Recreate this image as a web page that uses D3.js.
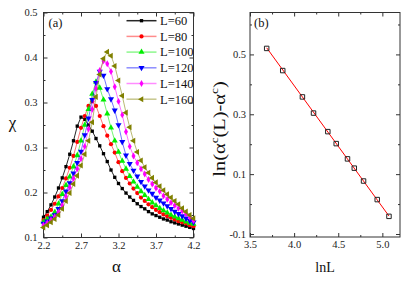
<!DOCTYPE html>
<html>
<head>
<meta charset="utf-8">
<script src="https://cdn.jsdelivr.net/npm/d3@7"></script>
<style>
  body { margin: 0; background: #fff; }
  svg text { font-family: "Liberation Serif", "Times New Roman", serif !important; }
  .axis path { stroke: none; }
  .axis line { stroke: #333; }
  .axis text { font-size: 10.5px; fill: #222; }
</style>
</head>
<body>
<div class="container"></div>
<script>
// panel (a): chi vs alpha for several L
var alpha = [2.20, 2.25, 2.30, 2.35, 2.40, 2.45, 2.50, 2.55, 2.60, 2.65,
  2.70, 2.75, 2.80, 2.85, 2.90, 2.95, 3.00, 3.05, 3.10, 3.15,
  3.20, 3.25, 3.30, 3.35, 3.40, 3.45, 3.50, 3.55, 3.60, 3.65,
  3.70, 3.75, 3.80, 3.85, 3.90, 3.95, 4.00, 4.05, 4.10, 4.15, 4.20];

var chiL60 = [0.136, 0.146, 0.158, 0.172, 0.188, 0.206, 0.226, 0.248, 0.272, 0.298,
  0.314, 0.310, 0.300, 0.289, 0.276, 0.263, 0.249, 0.235, 0.220, 0.207,
  0.196, 0.187, 0.179, 0.172, 0.166, 0.160, 0.155, 0.151, 0.146, 0.142,
  0.139, 0.136, 0.133, 0.131, 0.128, 0.126, 0.124, 0.122, 0.120, 0.118, 0.116];
var chiL80 = [0.131, 0.139, 0.149, 0.160, 0.173, 0.188, 0.205, 0.224, 0.245, 0.270,
  0.295, 0.316, 0.334, 0.342, 0.334, 0.316, 0.298, 0.281, 0.266, 0.251,
  0.234, 0.218, 0.206, 0.196, 0.187, 0.179, 0.171, 0.165, 0.159, 0.154,
  0.149, 0.145, 0.141, 0.138, 0.135, 0.132, 0.129, 0.127, 0.125, 0.122, 0.120];
var chiL100 = [0.128, 0.133, 0.137, 0.145, 0.160, 0.177, 0.193, 0.208, 0.226, 0.246,
  0.272, 0.300, 0.328, 0.355, 0.377, 0.366, 0.345, 0.320, 0.295, 0.272,
  0.252, 0.236, 0.222, 0.209, 0.199, 0.190, 0.182, 0.175, 0.168, 0.162,
  0.157, 0.152, 0.148, 0.144, 0.140, 0.137, 0.134, 0.131, 0.128, 0.126, 0.124];
var chiL120 = [0.125, 0.129, 0.134, 0.140, 0.151, 0.165, 0.182, 0.197, 0.214, 0.233,
  0.253, 0.282, 0.312, 0.345, 0.375, 0.395, 0.388, 0.364, 0.346, 0.326,
  0.300, 0.270, 0.246, 0.231, 0.219, 0.209, 0.199, 0.191, 0.184, 0.178,
  0.171, 0.166, 0.161, 0.156, 0.151, 0.146, 0.142, 0.138, 0.134, 0.130, 0.127];
var chiL140 = [0.122, 0.126, 0.131, 0.137, 0.145, 0.157, 0.173, 0.189, 0.205, 0.222,
  0.240, 0.262, 0.293, 0.328, 0.365, 0.397, 0.414, 0.409, 0.395, 0.368,
  0.342, 0.318, 0.288, 0.262, 0.245, 0.233, 0.222, 0.213, 0.203, 0.195,
  0.188, 0.182, 0.174, 0.168, 0.162, 0.157, 0.152, 0.147, 0.142, 0.136, 0.130];
var chiL160 = [0.118, 0.122, 0.127, 0.133, 0.140, 0.151, 0.165, 0.179, 0.195, 0.210,
  0.228, 0.248, 0.272, 0.305, 0.350, 0.390, 0.418, 0.430, 0.423, 0.405,
  0.379, 0.352, 0.322, 0.296, 0.272, 0.252, 0.237, 0.225, 0.215, 0.206,
  0.198, 0.191, 0.184, 0.177, 0.171, 0.165, 0.159, 0.152, 0.146, 0.140, 0.134];

var seriesNames = ["L=60", "L=80", "L=100", "L=120", "L=140", "L=160"];
var seriesValues = [chiL60, chiL80, chiL100, chiL120, chiL140, chiL160];

var xTicksA = [2.2, 2.7, 3.2, 3.7, 4.2];
var xMinorA = [2.45, 2.95, 3.45, 3.95];
var yTicksA = [0.1, 0.18, 0.26, 0.34, 0.42, 0.5];
var yMinorA = [0.14, 0.22, 0.30, 0.38, 0.46];

// panel (b): ln(alpha_c(L) - alpha_c) vs lnL
var lnL = [3.689, 3.871, 4.094, 4.220, 4.382, 4.477, 4.605, 4.682, 4.787, 4.942, 5.075];
var lnDiff = [0.520, 0.446, 0.358, 0.304, 0.242, 0.202, 0.151, 0.120, 0.077, 0.015, -0.041];
var fitLnL = [3.689, 5.075];
var fitDiff = [0.522, -0.040];

var xTicksB = [3.5, 4.0, 4.5, 5.0];
var xMinorB = [3.75, 4.25, 4.75];
var yTicksB = [-0.1, 0.1, 0.3, 0.5];
var yMinorB = [0.0, 0.2, 0.4, 0.6];

var colors = ["#000000", "#ff0000", "#00ee00", "#0000ff", "#ff00ff", "#808000"];
var symbols = [
  { type: d3.symbolSquare, size: 11, rot: 0 },
  { type: d3.symbolCircle, size: 14, rot: 0 },
  { type: d3.symbolTriangle, size: 16, rot: 0 },
  { type: d3.symbolTriangle, size: 16, rot: 180 },
  { type: d3.symbolDiamond, size: 14, rot: 0 },
  { type: d3.symbolTriangle, size: 16, rot: -90 },
];

var serif = '"Liberation Serif", "Times New Roman", serif';

var svg = d3
  .select(".container")
  .append("svg")
  .attr("width", 415)
  .attr("height", 282)
  .style("display", "block");

var fmt1 = function (d) {
  return d3.format(".1f")(d).replace("\u2212", "-");
};

function addAxes(g, x, y, t) {
  var w = x.range()[1];
  var h = y.range()[0];

  // minor ticks
  g.append("g").attr("class", "axis").attr("transform", `translate(0,${h})`)
    .call(d3.axisBottom(x).tickValues(t.xMinor).tickSize(-2).tickFormat(""));
  g.append("g").attr("class", "axis")
    .call(d3.axisTop(x).tickValues(t.xMinor).tickSize(-2).tickFormat(""));
  g.append("g").attr("class", "axis")
    .call(d3.axisLeft(y).tickValues(t.yMinor).tickSize(-2).tickFormat(""));
  g.append("g").attr("class", "axis").attr("transform", `translate(${w},0)`)
    .call(d3.axisRight(y).tickValues(t.yMinor).tickSize(-2).tickFormat(""));

  // major ticks
  g.append("g").attr("class", "axis").attr("transform", `translate(0,${h})`)
    .call(d3.axisBottom(x).tickValues(t.x).tickSizeInner(-4).tickSizeOuter(0)
      .tickPadding(4).tickFormat(fmt1));
  g.append("g").attr("class", "axis")
    .call(d3.axisTop(x).tickValues(t.x).tickSize(-4).tickFormat(""));
  g.append("g").attr("class", "axis")
    .call(d3.axisLeft(y).tickValues(t.y).tickSizeInner(-4).tickSizeOuter(0)
      .tickPadding(t.yPad).tickFormat(fmt1));
  g.append("g").attr("class", "axis").attr("transform", `translate(${w},0)`)
    .call(d3.axisRight(y).tickValues(t.y).tickSize(-4).tickFormat(""));

  g.selectAll(".axis").attr("font-family", serif);

  g.append("rect")
    .attr("width", w)
    .attr("height", h)
    .attr("fill", "none")
    .attr("stroke", "#333")
    .attr("stroke-width", 1);
}

function marker(i) {
  return d3.symbol().type(symbols[i].type).size(symbols[i].size)();
}

// ---------- panel (a)
var gA = svg.append("g").attr("transform", "translate(43.5,12.5)");
var xA = d3.scaleLinear().domain([2.2, 4.2]).range([0, 150]);
var yA = d3.scaleLinear().domain([0.1, 0.5]).range([225, 0]);

addAxes(gA, xA, yA, { x: xTicksA, xMinor: xMinorA, y: yTicksA, yMinor: yMinorA, yPad: 6 });

var line = d3
  .line()
  .x(function (d) { return xA(d[0]); })
  .y(function (d) { return yA(d[1]); });

seriesValues.forEach(function (vals, i) {
  var pts = alpha.map(function (a, j) { return [a, vals[j]]; });
  var s = gA.append("g").attr("class", "series");
  s.append("path")
    .attr("d", line(pts))
    .attr("fill", "none")
    .attr("stroke", colors[i])
    .attr("stroke-opacity", i === 0 ? 0.85 : 0.55)
    .attr("stroke-width", 1);
  s.selectAll("path.pt")
    .data(pts)
    .enter()
    .append("path")
    .attr("class", "pt")
    .attr("d", marker(i))
    .attr("fill", colors[i])
    .attr("transform", function (d) {
      return `translate(${xA(d[0])},${yA(d[1])}) rotate(${symbols[i].rot})`;
    });
});

// legend
var legend = svg.append("g").attr("transform", "translate(126.5,20.7)");
seriesNames.forEach(function (name, i) {
  var row = legend.append("g").attr("transform", `translate(0,${i * 15.7})`);
  row.append("line")
    .attr("x1", 0).attr("x2", 30)
    .attr("stroke", colors[i])
    .attr("stroke-opacity", i === 0 ? 0.85 : 0.45)
    .attr("stroke-width", 1.5);
  row.append("path")
    .attr("d", marker(i))
    .attr("fill", colors[i])
    .attr("transform", `translate(15,0) rotate(${symbols[i].rot})`);
  row.append("text")
    .attr("x", 33.5)
    .attr("dy", "0.35em")
    .style("font-size", "12.5px")
    .attr("fill", "#111")
    .text(name);
});

svg.append("text").attr("x", 48.5).attr("y", 26.5)
  .style("font-size", "12.5px").attr("fill", "#111").text("(a)");
svg.append("text").attr("x", 12.5).attr("y", 128).attr("text-anchor", "middle")
  .style("font-size", "17px").attr("fill", "#111").text("\u03c7");
svg.append("text").attr("x", 116.5).attr("y", 272).attr("text-anchor", "middle")
  .style("font-size", "17px").attr("fill", "#111").text("\u03b1");

// ---------- panel (b)
var gB = svg.append("g").attr("transform", "translate(250,12.5)");
var xB = d3.scaleLinear().domain([3.5, 5.2]).range([0, 150]);
var yB = d3.scaleLinear().domain([-0.11, 0.64]).range([224.5, 0]);

addAxes(gB, xB, yB, { x: xTicksB, xMinor: xMinorB, y: yTicksB, yMinor: yMinorB, yPad: 4 });

gB.append("path")
  .attr("d", d3.line()
    .x(function (d) { return xB(d[0]); })
    .y(function (d) { return yB(d[1]); })(fitLnL.map(function (v, j) { return [v, fitDiff[j]]; })))
  .attr("fill", "none")
  .attr("stroke", "#ff0000")
  .attr("stroke-width", 1);

gB.selectAll("path.sq")
  .data(lnL.map(function (v, j) { return [v, lnDiff[j]]; }))
  .enter()
  .append("path")
  .attr("class", "sq")
  .attr("d", d3.symbol().type(d3.symbolSquare).size(20)())
  .attr("fill", "none")
  .attr("stroke", "#222")
  .attr("stroke-width", 1)
  .attr("transform", function (d) {
    return `translate(${xB(d[0])},${yB(d[1])})`;
  });

svg.append("text").attr("x", 254).attr("y", 26.5)
  .style("font-size", "12.5px").attr("fill", "#111").text("(b)");
svg.append("text").attr("x", 325).attr("y", 271.5).attr("text-anchor", "middle")
  .style("font-size", "14px").attr("fill", "#111").text("lnL");

var yLab = svg.append("text")
  .attr("transform", "translate(225,129) rotate(-90) scale(1.2,1)")
  .attr("text-anchor", "middle")
  .style("font-size", "17px")
  .attr("fill", "#111");
yLab.append("tspan").text("ln(\u03b1");
yLab.append("tspan").attr("dy", -7).style("font-size", "11px").text("c");
yLab.append("tspan").attr("dy", 7).text("(L)-\u03b1");
yLab.append("tspan").attr("dy", -7).style("font-size", "11px").text("c");
yLab.append("tspan").attr("dy", 7).text(")");
</script>
</body>
</html>
